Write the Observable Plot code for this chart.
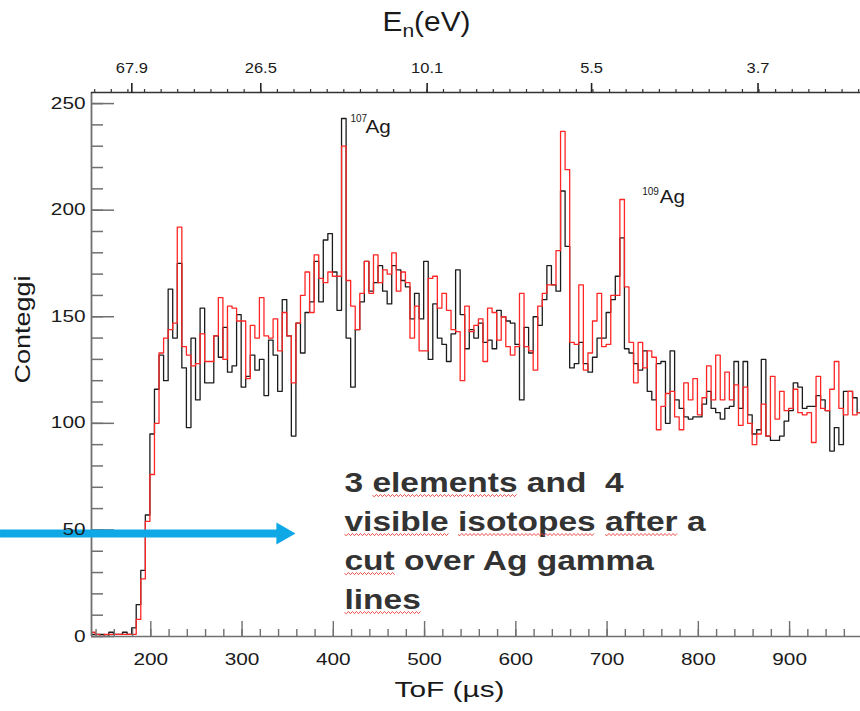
<!DOCTYPE html>
<html>
<head>
<meta charset="utf-8">
<script src="https://cdn.jsdelivr.net/npm/d3@7"></script>
<script src="https://cdn.jsdelivr.net/npm/@observablehq/plot@0.6"></script>
<style>
  html, body { margin: 0; padding: 0; background: #ffffff; }
  #chart { width: 860px; height: 711px; overflow: hidden; }
</style>
</head>
<body>
<div id="chart"></div>
<script>
// ---------------- data ----------------
const binStart = 134;   // µs, left edge of first ToF bin
const binWidth = 5;     // µs per bin

const countsBlack = [
  1,1,1,0,2,1,1,2,1,4,
  15,31,57,95,116,132,120,163,140,175,
  126,98,140,111,154,119,119,141,131,145,
  124,127,151,117,122,132,125,130,113,139,
  132,115,158,141,94,147,133,152,157,176,
  157,186,189,171,153,243,140,117,144,157,
  176,162,166,174,162,156,174,172,167,164,
  149,161,149,176,130,156,140,137,129,142,
  172,151,135,144,140,147,138,139,135,153,
  150,148,147,137,111,145,133,150,146,158,
  174,165,162,209,183,126,128,138,128,124,
  131,140,140,152,158,169,187,135,133,128,
  125,134,115,111,128,129,100,134,111,107,
  103,102,103,103,109,115,107,105,102,107,
  108,129,107,129,104,95,97,130,94,92,
  92,94,101,106,119,117,107,108,108,113,
  111,106,87,98,90,115,115,112,105,97
];

const countsRed = [
  2,1,0,1,1,1,1,1,1,1,
  8,27,54,76,100,133,140,144,147,192,
  136,132,127,128,142,129,129,141,159,130,
  155,154,148,148,121,146,140,159,141,140,
  149,134,152,141,119,147,160,171,152,179,
  168,166,171,169,169,230,167,155,144,161,
  176,161,179,166,172,170,180,162,171,166,
  140,155,134,134,168,169,154,161,153,144,
  143,120,155,143,146,149,129,154,152,139,
  150,136,132,136,161,136,134,125,155,161,
  165,165,181,237,219,138,137,165,125,133,
  148,161,136,137,160,160,205,164,138,119,
  138,126,134,131,97,108,114,115,103,97,
  119,111,121,104,112,127,111,132,111,124,
  111,118,99,117,100,90,95,109,94,122,
  102,115,106,107,116,105,104,105,91,122,
  107,106,116,129,107,104,115,104,105,108
];

const yMajorTicks = [0, 50, 100, 150, 200, 250];
const yMinorTicks = d3.range(0, 251, 10);
const xMajorTicks = [200, 300, 400, 500, 600, 700, 800, 900];
const xMinorTicks = d3.range(140, 981, 20);
const topTickToF = [179.2, 320.5, 502.8, 683.0, 865.4];
const topTickLabels = ["67.9", "26.5", "10.1", "5.5", "3.7"];
const topMinorToF = d3.range(138.5, 980, 18.2);

const titleMain = "E", titleSub = "n", titleUnit = "(eV)";
const yTitle = "Conteggi";
const xTitle = "ToF (µs)";

const peakNames = ["Ag", "Ag"];
const peakMasses = ["107", "109"];
const peakNameToF = [435.2, 757.7];
const peakNameY = [239.0, 206.1];
const peakMassToF = [418.8, 738.4];
const peakMassY = [242.8, 208.8];

const annotLines = ["3 elements and  4", "visible isotopes after a", "cut over Ag gamma", "lines"];
const annotToF = 412.2;
const annotY = [71.8, 53.5, 35.2, 16.9];
const flaggedWords = ["elements", "visible", "isotopes", "after", "cut", "lines"];

const arrowY = 48.3, arrowFromToF = 35.3, arrowToToF = 342.5, arrowHeadToF = 344.6;

// ---------------- layout ----------------
const xDomain = [135, 977.7];
const yDomain = [0, 255.2];
const axisGrey = "#707070";
const arrowBlue = "#0ea8e6";
const squiggleRed = "#e8403a";

function toSteps(counts) {
  const pts = counts.map((v, i) => ({t: binStart + i * binWidth, v}));
  pts.push({t: binStart + counts.length * binWidth, v: counts[counts.length - 1]});
  return pts;
}

const chart = Plot.plot({
  width: 860, height: 711,
  marginTop: 92, marginRight: 0, marginBottom: 75, marginLeft: 91,
  x: {domain: xDomain, axis: null},
  y: {domain: yDomain, axis: null},
  style: {fontFamily: "'Liberation Sans', Arial, sans-serif", background: "#ffffff", color: "#1a1a1a"},
  marks: [
    // histograms
    Plot.line(toSteps(countsBlack), {x: "t", y: "v", curve: "step-after", stroke: "#1c1c1c", strokeWidth: 1.3, clip: true}),
    Plot.line(toSteps(countsRed), {x: "t", y: "v", curve: "step-after", stroke: "#ff2626", strokeWidth: 1.3, clip: true}),
    // axis lines
    Plot.ruleX([xDomain[0]], {stroke: axisGrey, strokeWidth: 1.8}),
    Plot.ruleY([0], {stroke: axisGrey, strokeWidth: 1.6}),
    Plot.ruleY([yDomain[1]], {stroke: "#333", strokeWidth: 1.3}),
    // ticks
    Plot.axisY(yMajorTicks, {anchor: "left", tickSize: -23, tickFormat: () => "", stroke: axisGrey, strokeWidth: 1.5, label: null}),
    Plot.axisY(yMinorTicks, {anchor: "left", tickSize: -12, tickFormat: () => "", stroke: axisGrey, strokeWidth: 1.5, label: null}),
    Plot.axisX(xMajorTicks, {anchor: "bottom", tickSize: -15, tickFormat: () => "", stroke: axisGrey, strokeWidth: 1.4, label: null}),
    Plot.axisX(xMinorTicks, {anchor: "bottom", tickSize: -7, tickFormat: () => "", stroke: axisGrey, strokeWidth: 1.4, label: null}),
    Plot.axisX(topTickToF, {anchor: "top", tickSize: 10, tickFormat: () => "", stroke: "#222", strokeWidth: 1.6, label: null}),
    Plot.axisX(topMinorToF, {anchor: "top", tickSize: 4, tickFormat: () => "", stroke: "#333", strokeWidth: 1.2, label: null}),
    // blue arrow (annotation)
    Plot.ruleY([arrowY], {x1: arrowFromToF, x2: arrowToToF, stroke: arrowBlue, strokeWidth: 8}),
    Plot.dot([arrowY], {x: arrowHeadToF, y: d => d, symbol: "triangle", r: 8.2, rotate: 90, fill: arrowBlue, stroke: "none"}),
    // 0: y tick labels
    Plot.text(yMajorTicks, {y: d => d, frameAnchor: "left", textAnchor: "end", dx: -6, text: d => String(d), fontSize: 16, fill: "#1a1a1a"}),
    // 1: x tick labels
    Plot.text(xMajorTicks, {x: d => d, frameAnchor: "bottom", lineAnchor: "middle", dy: 23, text: d => String(d), fontSize: 16, fill: "#1a1a1a"}),
    // 2: top tick labels
    Plot.text(topTickToF, {x: d => d, frameAnchor: "top", lineAnchor: "middle", dy: -24, text: (d, i) => topTickLabels[i], fontSize: 15, fill: "#1a1a1a"}),
    // 3: top title
    Plot.text([titleMain + titleSub + titleUnit], {frameAnchor: "top", lineAnchor: "middle", dx: -49.5, dy: -70, text: d => d, fontSize: 27, fill: "#1a1a1a"}),
    // 4: y title
    Plot.text([yTitle], {x: 59.5, y: 144.0, rotate: -90, lineAnchor: "middle", text: d => d, fontSize: 22, fill: "#1a1a1a"}),
    // 5: x title
    Plot.text([xTitle], {frameAnchor: "bottom", lineAnchor: "middle", dx: -26.5, dy: 53, text: d => d, fontSize: 22, fill: "#1a1a1a"}),
    // 6: peak names
    Plot.text(peakNames, {x: (d, i) => peakNameToF[i], y: (d, i) => peakNameY[i], text: d => d, textAnchor: "start", lineAnchor: "middle", fontSize: 18, fill: "#1a1a1a"}),
    // 7: mass numbers
    Plot.text(peakMasses, {x: (d, i) => peakMassToF[i], y: (d, i) => peakMassY[i], text: d => d, textAnchor: "start", lineAnchor: "middle", fontSize: 10, fill: "#1a1a1a"}),
    // 8: annotation
    Plot.text(annotLines, {x: annotToF, y: (d, i) => annotY[i], text: d => d, textAnchor: "start", lineAnchor: "middle", fontSize: 27, fontWeight: "bold", fill: "#333333"})
  ]
});

document.getElementById("chart").appendChild(chart);

// ---------------- text post-processing ----------------
const SVGNS = "http://www.w3.org/2000/svg";
const XMLNS = "http://www.w3.org/XML/1998/namespace";
const groups = chart.querySelectorAll('g[aria-label="text"]');

// subscript in the top title
{
  const t = groups[3].querySelector("text");
  t.textContent = "";
  const a = document.createElementNS(SVGNS, "tspan"); a.textContent = titleMain;
  const b = document.createElementNS(SVGNS, "tspan"); b.textContent = titleSub;
  b.setAttribute("font-size", "19"); b.setAttribute("dy", "6");
  const c = document.createElementNS(SVGNS, "tspan"); c.textContent = titleUnit;
  c.setAttribute("dy", "-6");
  t.append(a, b, c);
}

// split annotation lines into words (flagged words get a spell-check squiggle)
groups[8].querySelectorAll("text").forEach(t => {
  const line = t.textContent;
  t.textContent = "";
  t.setAttributeNS(XMLNS, "xml:space", "preserve");
  t.style.whiteSpace = "pre";
  line.split(/(\s+)/).forEach(tok => {
    if (!tok) return;
    const ts = document.createElementNS(SVGNS, "tspan");
    ts.textContent = tok;
    if (flaggedWords.includes(tok)) ts.setAttribute("class", "flag");
    t.appendChild(ts);
  });
});

function stretch(g, factor, targets) {
  g.querySelectorAll("text").forEach((t, i) => {
    const w = t.getComputedTextLength();
    if (!(w > 0)) return;
    const target = targets ? targets[i] : w * factor;
    t.setAttribute("textLength", target.toFixed(1));
    t.setAttribute("lengthAdjust", "spacingAndGlyphs");
  });
}
stretch(groups[0], 1.3);
stretch(groups[1], 1.3);
stretch(groups[2], 1.1);
stretch(groups[3], 1, [88]);
stretch(groups[4], 1, [108]);
stretch(groups[5], 1, [110]);
stretch(groups[6], 1.15);
stretch(groups[8], 1.24);

// wavy red underline under flagged words
groups[8].querySelectorAll("text").forEach(t => {
  t.querySelectorAll("tspan.flag").forEach(ts => {
    let b;
    try { b = ts.getBBox(); } catch (e) { return; }
    if (!b || !(b.width > 0)) return;
    const y0 = b.y + b.height - 2.5;
    let d = `M${b.x.toFixed(1)},${y0.toFixed(1)}`;
    let k = 0;
    for (let x = b.x + 2; x <= b.x + b.width; x += 2, k++) {
      d += `L${x.toFixed(1)},${(y0 + (k % 2 ? -1.1 : 1.1)).toFixed(1)}`;
    }
    const p = document.createElementNS(SVGNS, "path");
    p.setAttribute("d", d);
    p.setAttribute("fill", "none");
    p.setAttribute("stroke", squiggleRed);
    p.setAttribute("stroke-width", "0.9");
    const tr = t.getAttribute("transform");
    if (tr) p.setAttribute("transform", tr);
    t.parentNode.appendChild(p);
  });
});
</script>
</body>
</html>
